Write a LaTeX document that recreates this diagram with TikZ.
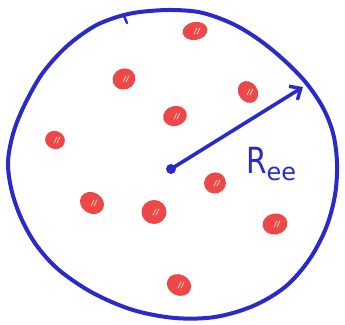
\documentclass[tikz,border=0pt]{standalone}
\usepackage{fontspec}
\setmainfont{DejaVu Sans}
\usetikzlibrary{arrows.meta}
\definecolor{penblue}{HTML}{2A2ACA}
\definecolor{dotred}{HTML}{EE4747}
\tikzset{
  pen/.style={draw=penblue, line width=4pt, line cap=round, line join=round},
  dot/.style={fill=dotred, draw=none},
  shine/.style={draw=white, line width=0.7pt, line cap=round, opacity=0.75},
}
\begin{document}
\begin{tikzpicture}[x=1pt,y=-1pt]
\useasboundingbox (0,0) rectangle (345,324);
% outer hand-drawn circle
\draw[pen] plot[smooth cycle, tension=0.55] coordinates {
 (117,17) (140,12) (172,10) (203,13) (237,26) (270,48) (302,78) (322,106)
 (333,133) (337,163) (335,195) (326,228) (309,260) (285,287) (253,306)
 (215,317) (175,318) (133,310) (93,293) (59,270) (37,246) (22,220)
 (12,192) (8,163) (13,134) (24,106) (42,74) (66,47) (93,27)};
\draw[pen, line width=2.4pt] (124,16) -- (127,23);
% red dots
\foreach \n/\x/\y/\rx/\ry/\r in {
 d1/195/31/12.5/9/10, d2/124/79/11.5/10.5/20, d3/248/92/11.5/9.5/-55, d4/175/116/12/10/15,
 d5/55/140/10/9/-20, d6/215/183/11/10.5/20, d7/92/203/12.5/10.5/-30, d8/154/212/12.5/12/0,
 d9/275/224/12.5/10.5/10, d10/179/285/12.5/10.5/-25}{
  \fill[dot, rotate around={\r:(\x,\y)}] (\x,\y) ellipse ({\rx} and {\ry});
  \draw[shine] (\x-1,\y+3) -- (\x+2,\y-3);
  \draw[shine] (\x+2,\y+3) -- (\x+5,\y-3);
}
% center and radius arrow
\coordinate (c) at (171,169);
\coordinate (e) at (303,87);
\fill[penblue] (c) circle (5);
\draw[pen, line width=3.6pt, -{Straight Barb[length=9pt,width=16pt,line width=3.4pt]}] (c) -- (e);
% label
\node[text=penblue, inner sep=0pt, anchor=base west] (lab) at (246,173)
  {\scalebox{0.82}[1]{\fontsize{36}{36}\selectfont R}\raisebox{-7pt}{\fontsize{24}{24}\selectfont ee}};
\end{tikzpicture}
\end{document}
